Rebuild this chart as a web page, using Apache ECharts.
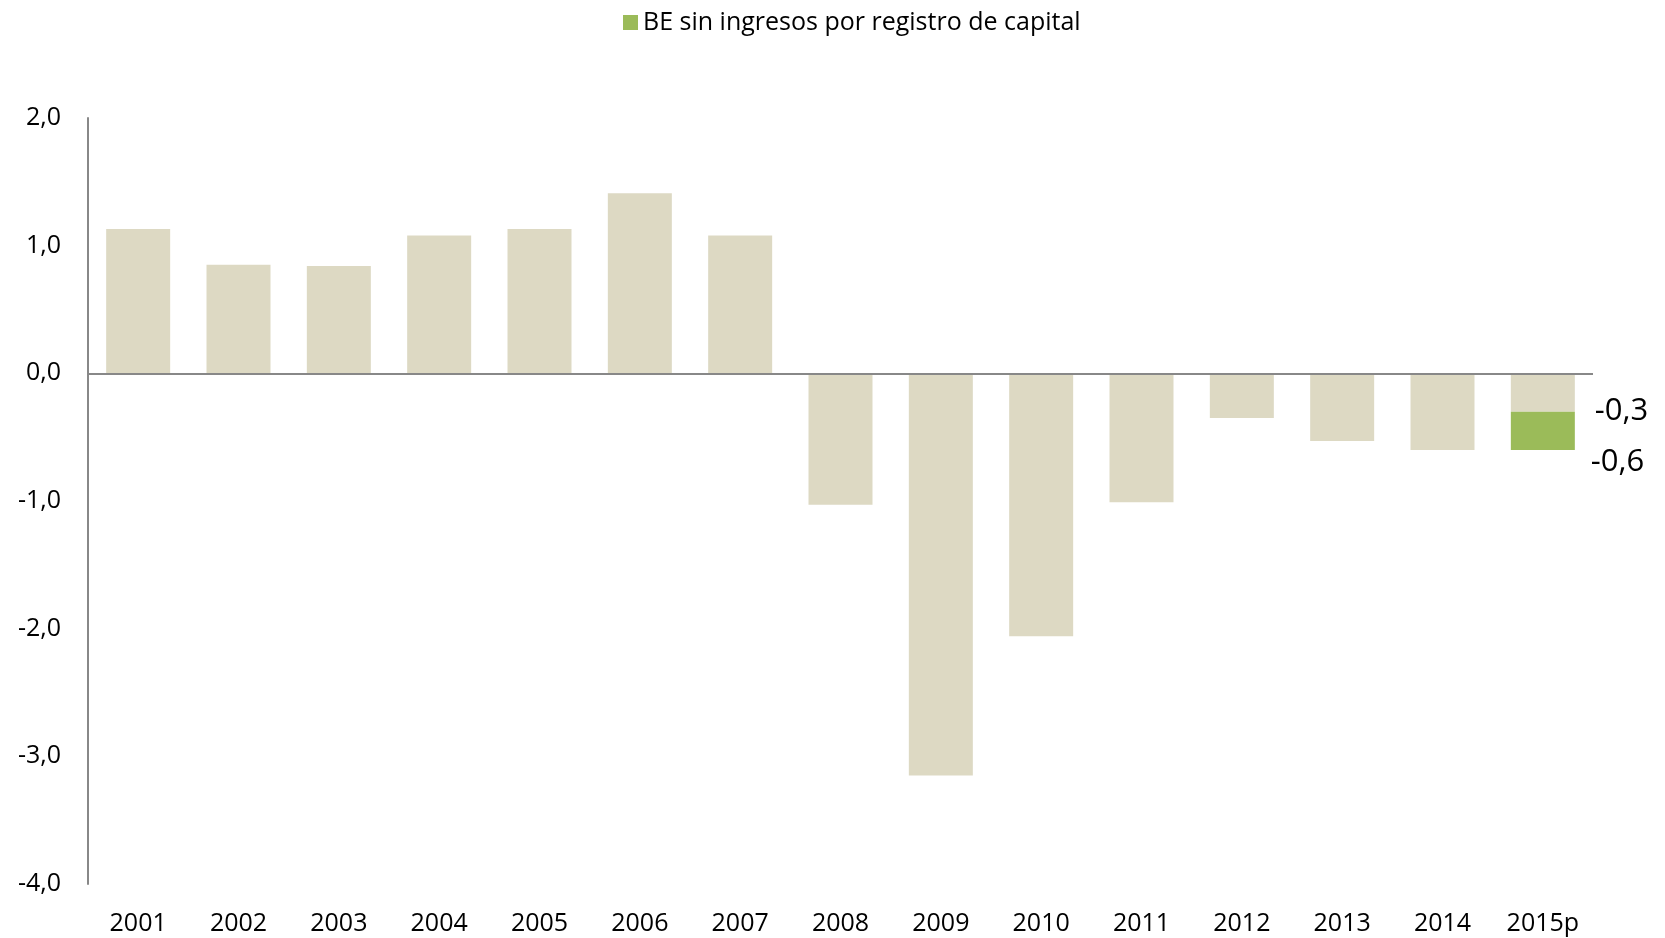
<!DOCTYPE html>
<html>
<head>
<meta charset="utf-8">
<script src="https://cdn.jsdelivr.net/npm/echarts@6/dist/echarts.min.js"></script>
<style>
  html, body { margin: 0; padding: 0; background: #fff; }
  #chart { width: 1665px; height: 938px; }
</style>
</head>
<body>
<div id="chart"></div>
<script>
// data
const years = ['2001', '2002', '2003', '2004', '2005', '2006', '2007', '2008',
  '2009', '2010', '2011', '2012', '2013', '2014', '2015p'];
const balance = [1.13, 0.85, 0.84, 1.08, 1.13, 1.41, 1.08, -1.03,
  -3.15, -2.06, -1.01, -0.35, -0.53, -0.6, -0.3];
const sinCapital = [null, null, null, null, null, null, null, null,
  null, null, null, null, null, null, -0.3];
const legendName = 'BE sin ingresos por registro de capital';

const fmt = v => v.toFixed(1).replace('.', ',');
const last = years.length - 1;
const FONT = 'Open Sans';

const chart = echarts.init(document.getElementById('chart'));

const beigeData = balance.map((v, i) => i === last ? {
  value: v,
  label: {
    show: true, position: 'right', distance: 5, offset: [15, 19],
    formatter: () => fmt(v),
    fontSize: 31, color: '#000', fontFamily: FONT
  }
} : v);

const greenData = sinCapital.map((v, i) => i === last ? {
  value: v,
  label: {
    show: true, position: 'right', distance: 5, offset: [11, 31],
    formatter: () => fmt(v + balance[i]),
    fontSize: 31, color: '#000', fontFamily: FONT
  }
} : v);

chart.setOption({
  animation: false,
  textStyle: { fontFamily: FONT },
  legend: {
    data: [legendName],
    left: 618, top: 5,
    icon: 'rect', itemWidth: 15, itemHeight: 15,
    textStyle: { fontSize: 25, color: '#000', fontFamily: FONT }
  },
  grid: { left: 88, right: 72, top: 118, bottom: 54 },
  xAxis: {
    type: 'category',
    data: years,
    axisLine: { show: false, onZero: false },
    axisTick: { show: false },
    axisLabel: { fontSize: 25, color: '#000', margin: 27, fontFamily: FONT }
  },
  yAxis: {
    type: 'value',
    min: -4, max: 2, interval: 1,
    axisLine: { show: true, lineStyle: { color: '#888', width: 2 } },
    axisTick: { show: false },
    splitLine: { show: false },
    axisLabel: { fontSize: 25, color: '#000', margin: 27, formatter: fmt, fontFamily: FONT }
  },
  series: [
    {
      name: 'BE',
      type: 'bar',
      stack: 'total',
      barWidth: 64,
      itemStyle: { color: '#DDD9C3' },
      data: beigeData,
      markLine: {
        silent: true,
        symbol: 'none',
        label: { show: false },
        lineStyle: { color: '#888', width: 2, type: 'solid' },
        data: [{ yAxis: 0 }]
      }
    },
    {
      name: legendName,
      type: 'bar',
      stack: 'total',
      barWidth: 64,
      itemStyle: { color: '#9BBB59' },
      data: greenData
    }
  ]
});
</script>
</body>
</html>
